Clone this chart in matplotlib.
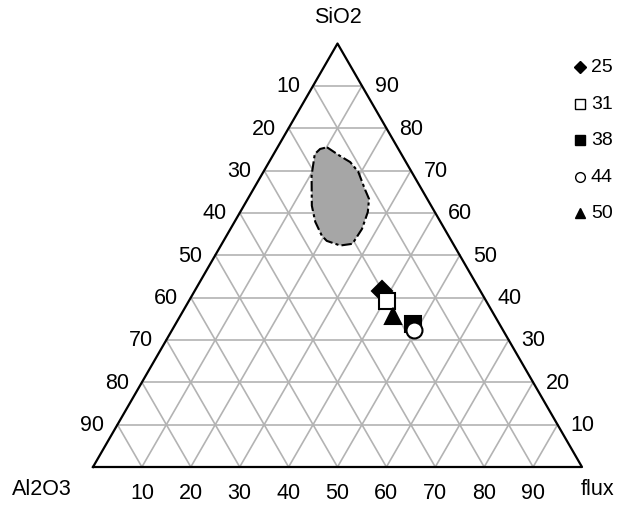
import numpy as np
import matplotlib.pyplot as plt

plt.rcParams['font.family'] = ['Liberation Sans', 'DejaVu Sans']

# ternary data in percent: SiO2 (top), flux (bottom right), Al2O3 = rest
labels = ['25', '31', '38', '44', '50']
sio2 = [41.6, 39.1, 33.8, 32.3, 35.7]
flux = [38.2, 40.5, 48.5, 49.5, 43.5]
markers = ['D', 's', 's', 'o', '^']
faces = ['black', 'white', 'black', 'white', 'black']
order = [0, 1, 2, 3, 4]

# grey field outline
blob_sio2 = [75.5, 73.5, 72.0, 69.7, 65.6, 63.3, 60.2, 56.2, 52.7, 52.3,
             53.4, 54.6, 57.9, 61.7, 68.8, 73.9, 75.1]
blob_flux = [10.1, 13.7, 16.6, 19.4, 22.8, 24.8, 26.1, 26.9, 26.7, 24.4,
             21.1, 19.5, 16.5, 13.9, 10.3, 8.4, 8.9]

ticks = [10, 20, 30, 40, 50, 60, 70, 80, 90]

H = np.sqrt(3) / 2
PX = 489.0  # pixels per unit side


def xy(s, f):
    s = np.asarray(s) / 100.0
    f = np.asarray(f) / 100.0
    return f + s / 2, s * H


fig = plt.figure(figsize=(6.37, 5.06), dpi=100)
ax = fig.add_axes([0, 0, 1, 1])
ax.set_xlim(-93 / PX, (637 - 93) / PX)
ax.set_ylim(-38 / PX, 468 / PX)
ax.axis('off')

# grid
gc = '#b3b3b3'
for t in ticks:
    # constant SiO2 (horizontal)
    x0, y0 = xy(t, 0)
    x1, y1 = xy(t, 100 - t)
    ax.plot([x0, x1], [y0, y1], color=gc, lw=1.2, zorder=1)
    # constant flux
    x0, y0 = xy(0, t)
    x1, y1 = xy(100 - t, t)
    ax.plot([x0, x1], [y0, y1], color=gc, lw=1.2, zorder=1)
    # constant Al2O3
    x0, y0 = xy(0, 100 - t)
    x1, y1 = xy(100 - t, 0)
    ax.plot([x0, x1], [y0, y1], color=gc, lw=1.2, zorder=1)

ax.plot([0, 1, 0.5, 0], [0, 0, H, 0], color='black', lw=1.6, zorder=2)

# grey field
bx, by = xy(blob_sio2, blob_flux)
ax.fill(bx, by, facecolor='#a6a6a6', edgecolor='none', zorder=3)
ax.plot(np.append(bx, bx[0]), np.append(by, by[0]), color='black', lw=1.5,
        ls=(0, (5, 1.5, 1.5, 1.5)), zorder=4)

# samples
for i in order:
    px, py = xy(sio2[i], flux[i])
    ms = 10.5 if markers[i] == 'D' else 11.5
    ax.plot(px, py, marker=markers[i], ms=ms, mfc=faces[i], mec='black',
            mew=1.5, ls='none', zorder=5 + i)

# tick labels
fs = 15.5
off = 25 / PX
for t in ticks:
    x, y = xy(0, t)
    ax.text(x, y - 26 / PX, str(t), ha='center', va='center', fontsize=fs)
    x, y = xy(100 - t, 0)
    ax.text(x - off, y, str(t), ha='center', va='center', fontsize=fs)
    x, y = xy(t, 100 - t)
    ax.text(x + off, y, str(t), ha='center', va='center', fontsize=fs)

ax.text(0.5, 450 / PX, 'SiO2', ha='center', va='center', fontsize=fs)
ax.text(-51 / PX, -22 / PX, 'Al2O3', ha='center', va='center', fontsize=fs)
ax.text(505 / PX, -22 / PX, 'flux', ha='center', va='center', fontsize=fs)

# legend
ly = [68, 105, 141, 178, 214]
for i in range(len(labels)):
    y = (468 - ly[i]) / PX
    ax.plot((580 - 93) / PX, y, marker=markers[i], ms=6 if markers[i] == 'D' else 7,
            mfc=faces[i], mec='black', mew=1.0, ls='none')
    ax.text((591 - 93) / PX, y, labels[i], ha='left', va='center', fontsize=14)

fig.savefig('out.png', dpi=100)
